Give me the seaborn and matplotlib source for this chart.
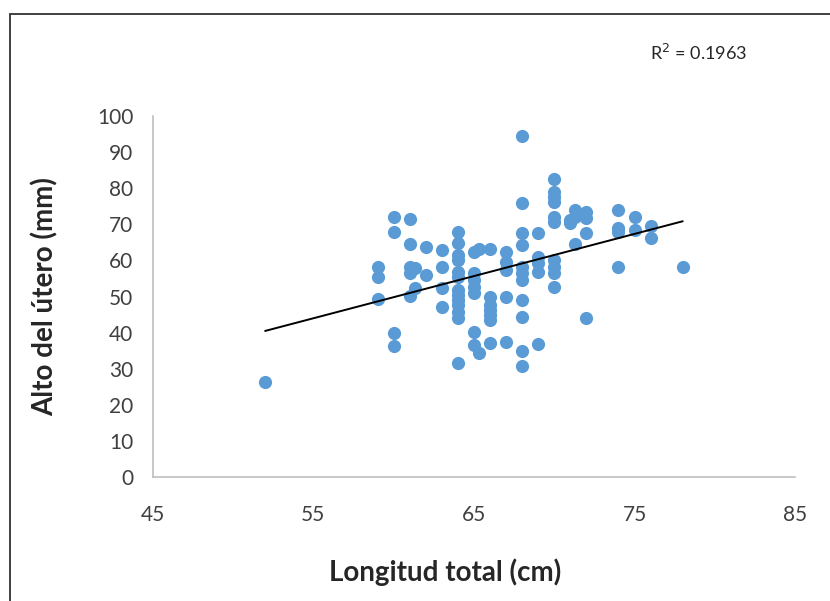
import numpy as np
import pandas as pd
import matplotlib.pyplot as plt
import seaborn as sns
from matplotlib.patches import Rectangle

# datos: longitud total (cm) y alto del útero (mm)
longitud = [52,
            59, 59, 59,
            60, 60, 60, 60,
            61, 61, 61, 61.3, 61, 61.3, 61,
            62, 62,
            63, 63, 63, 63,
            64, 64, 64, 64, 64, 64, 64, 64, 64, 64, 64, 64, 64,
            65, 65, 65, 65, 65, 65, 65, 65.3, 65.3,
            66, 66, 66, 66, 66, 66, 66,
            67, 67, 67, 67, 67,
            68, 68, 68, 68, 68, 68, 68, 68, 68, 68, 68,
            69, 69, 69, 69, 69,
            70, 70, 70, 70, 70, 70, 70, 70, 70, 70,
            71, 71, 71.3, 71.3, 71.3,
            72, 72, 72, 72,
            74, 74, 74, 74,
            75, 75,
            76, 76,
            78]
alto = [26.3,
        58.3, 55.5, 49.3,
        71.9, 67.8, 40.0, 36.4,
        71.6, 64.5, 58.3, 57.8, 56.4, 52.3, 50.2,
        63.7, 56.1,
        62.9, 58.3, 52.4, 47.2,
        67.9, 64.7, 61.5, 60.1, 56.9, 55.5, 51.8, 50.4, 49.0, 47.6, 45.8, 44.0, 31.7,
        62.4, 56.4, 54.6, 52.7, 50.9, 40.2, 36.6, 63.1, 34.3,
        63.3, 49.9, 47.6, 46.3, 44.9, 43.5, 37.2,
        62.4, 59.6, 57.3, 49.9, 37.5,
        94.5, 75.8, 67.5, 64.3, 58.3, 56.4, 54.6, 49.0, 44.4, 35.0, 30.7,
        67.5, 61.0, 59.2, 56.9, 37.0,
        82.5, 79.0, 77.6, 76.3, 72.1, 70.7, 60.1, 58.3, 56.4, 52.7,
        71.2, 70.3, 74.0, 72.1, 64.5,
        73.5, 71.7, 67.5, 44.0,
        74.0, 68.9, 67.9, 58.3,
        71.9, 68.4,
        69.6, 66.1,
        58.3]
r2_texto = 'R$^2$ = 0.1963'
x_ticks = [45, 55, 65, 75, 85]
y_ticks = list(range(0, 101, 10))

df = pd.DataFrame({'longitud': longitud, 'alto': alto})

sns.set_style('white')
plt.rcParams['font.family'] = ['Lato', 'DejaVu Sans']

fig = plt.figure(figsize=(8.3, 6.01), dpi=100)
ax = fig.add_axes([0.184, 0.206, 0.774, 0.601])

sns.regplot(data=df, x='longitud', y='alto', ax=ax, ci=None,
            scatter_kws={'s': 90, 'color': '#5B9BD5', 'alpha': 1, 'linewidths': 0},
            line_kws={'color': 'black', 'linewidth': 1.4})

ax.set_xlim(45, 85)
ax.set_ylim(0, 100)
ax.set_xticks(x_ticks)
ax.set_yticks(y_ticks)
ax.tick_params(axis='both', length=0, labelsize=15, labelcolor='#404040')
ax.tick_params(axis='x', pad=20)
ax.tick_params(axis='y', pad=14)

for side in ['top', 'right']:
    ax.spines[side].set_visible(False)
for side in ['left', 'bottom']:
    ax.spines[side].set_color('#BFBFBF')
    ax.spines[side].set_linewidth(1.2)

ax.set_xlabel('Longitud total (cm)', fontsize=20, fontweight='bold', color='#262626')
ax.set_ylabel('Alto del útero (mm)', fontsize=20, fontweight='bold', color='#262626')
ax.xaxis.set_label_coords(0.455, -0.225)
ax.yaxis.set_label_coords(-0.147, 0.5)

fig.text(0.783, 0.900, r2_texto, fontsize=13, color='#262626')

# marco exterior del gráfico
fig.patches.append(Rectangle((0.012, -0.5), 1.5, 1.477, transform=fig.transFigure,
                             fill=False, edgecolor='#333333', linewidth=1.3))

fig.savefig('out.png', dpi=100)
